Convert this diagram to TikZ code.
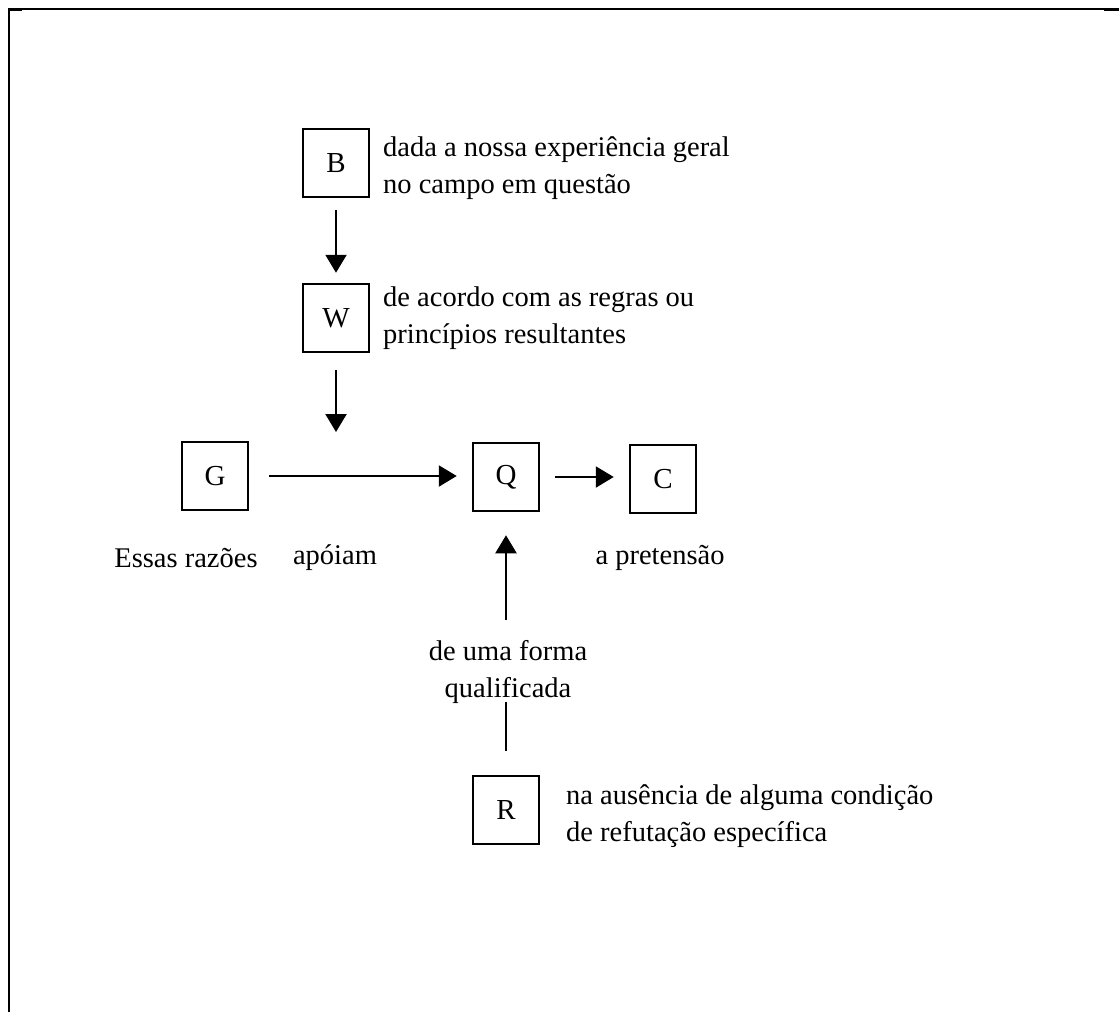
\documentclass[tikz,border=0pt]{standalone}
\usepackage{fontspec}
\setmainfont{Liberation Serif}
\usetikzlibrary{arrows.meta}
\begin{document}
\begin{tikzpicture}[x=1pt,y=-1pt,
  box/.style={draw,line width=2.5pt,minimum width=66pt,minimum height=68pt,inner sep=0pt,font=\fontsize{29}{37}\selectfont},
  lbl/.style={inner sep=0pt,font=\fontsize{28.5}{37}\selectfont,align=left},
  clbl/.style={inner sep=0pt,font=\fontsize{28.5}{37}\selectfont,align=center},
  arr/.style={line width=2.3pt,-{Triangle[length=18pt,width=21pt]}},
  ln/.style={line width=2.3pt}]
\useasboundingbox (0,0) rectangle (1119,1012);
% frame
\coordinate (f1) at (9,1012);
\coordinate (f2) at (9,9);
\coordinate (f3) at (1119,9);
\draw[line width=2.2pt] (f1) -- (f2) -- (f3);
\coordinate (t1) at (9,10); \coordinate (t2) at (22,10);
\coordinate (t3) at (1104,10); \coordinate (t4) at (1119,10);
\draw[line width=2.8pt] (t1) -- (t2);
\draw[line width=2.8pt] (t3) -- (t4);
% boxes
\node[box] (B) at (336,163) {B};
\node[box] (W) at (336,318) {W};
\node[box] (G) at (215,476) {G};
\node[box] (Q) at (506,477) {Q};
\node[box] (C) at (663,479) {C};
\node[box] (R) at (506,810) {R};
% labels
\node[lbl,anchor=west] (Bt) at (383,168) {dada a nossa experiência geral\\no campo em questão};
\node[lbl,anchor=west] (Wt) at (383,318) {de acordo com as regras ou\\princípios resultantes};
\node[lbl,anchor=west] (Rt) at (566,816) {na ausência de alguma condição\\de refutação específica};
\node[clbl] (Gt) at (186,558) {Essas razões};
\node[clbl] (At) at (335,558) {apóiam};
\node[clbl] (Ct) at (660,558) {a pretensão};
\node[clbl] (Qt) at (508,672) {de uma forma\\qualificada};
% connectors
\coordinate (wend) at (336,432);
\coordinate (qup) at (506,620);
\coordinate (rtop) at (506,702);
\draw[arr,shorten <=12pt,shorten >=10pt] (B) -- (W);
\draw[arr,shorten <=17pt] (W.south) -- (wend);
\draw[arr,shorten <=20pt,shorten >=15pt] (G) -- (G -| Q.west);
\draw[arr,shorten <=15pt,shorten >=15pt] (Q.east) -- (Q.east -| C.west);
\draw[arr,shorten >=23pt] (qup) -- (Q.south);
\draw[ln,shorten <=24pt] (R.north) -- (rtop);
\end{tikzpicture}
\end{document}
